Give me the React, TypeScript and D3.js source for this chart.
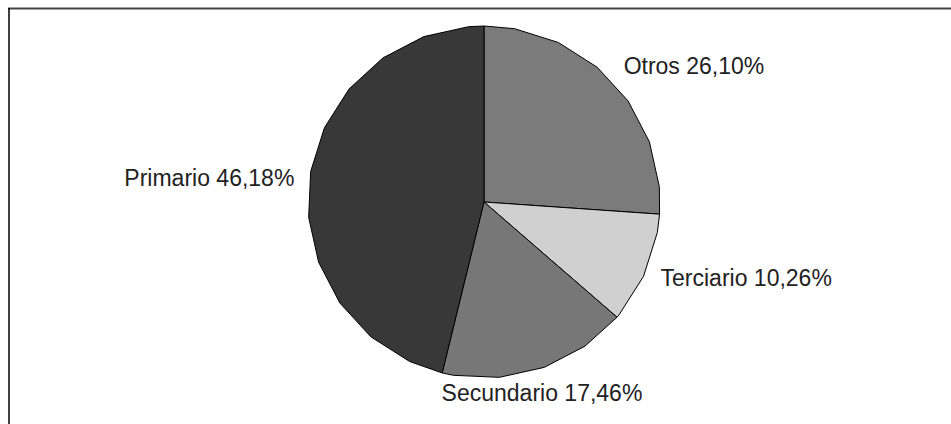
import React from "react";
import * as d3 from "d3";

const categories = ["Otros", "Terciario", "Secundario", "Primario"];
const values = [26.1, 10.26, 17.46, 46.18];
const labels = ["Otros 26,10%", "Terciario 10,26%", "Secundario 17,46%", "Primario 46,18%"];
const colors = ["#7b7b7b", "#d0d0d0", "#777777", "#383838"];

const W = 951;
const H = 424;
const cx = 484;
const cy = 202;
const R = 176;
const labelRx = 191;
const labelRy = 200;
const stepDeg = 15;
const phaseDeg = 10;

function polyPath(a0: number, a1: number): string {
  const pt = (a: number) => [cx + R * Math.sin(a), cy - R * Math.cos(a)];
  const pts: number[][] = [[cx, cy], pt(a0)];
  const step = (stepDeg * Math.PI) / 180;
  const phase = (phaseDeg * Math.PI) / 180;
  let k = Math.ceil((a0 - phase) / step);
  let a = phase + k * step;
  while (a < a1 - 1e-6) {
    if (a > a0 + 1e-6) pts.push(pt(a));
    k++;
    a = phase + k * step;
  }
  pts.push(pt(a1));
  return d3.line()(pts as [number, number][]) + "Z";
}

export default function App() {
  const pie = d3
    .pie<number>()
    .sort(null)
    .startAngle(0)
    .endAngle(2 * Math.PI);
  const arcs = pie(values);
  return (
    <svg
      width={W}
      height={H}
      style={{ position: "absolute", left: 0, top: 0, display: "block" }}
    >
      <rect x={0} y={0} width={W} height={H} fill="#ffffff" />
      <line x1={8} y1={8.5} x2={W} y2={8.5} stroke="#444" strokeWidth={2} />
      <line x1={9} y1={8} x2={9} y2={H} stroke="#000" strokeWidth={1.5} />
      {arcs.map((d, i) => (
        <path
          key={categories[i]}
          d={polyPath(d.startAngle, d.endAngle)}
          fill={colors[i]}
          stroke="#000"
          strokeWidth={1}
          strokeLinejoin="round"
        />
      ))}
      {arcs.map((d, i) => {
        const m = (d.startAngle + d.endAngle) / 2;
        const s = Math.sin(m);
        const x = cx + labelRx * s;
        const y = cy - labelRy * Math.cos(m);
        const anchor = s > 0.5 ? "start" : s < -0.5 ? "end" : "middle";
        return (
          <text
            key={"l" + categories[i]}
            x={x}
            y={y}
            dy="0.35em"
            textAnchor={anchor}
            fontFamily="'Liberation Sans', Arial, sans-serif"
            fontSize={23}
            fill="#222"
          >
            {labels[i]}
          </text>
        );
      })}
    </svg>
  );
}
